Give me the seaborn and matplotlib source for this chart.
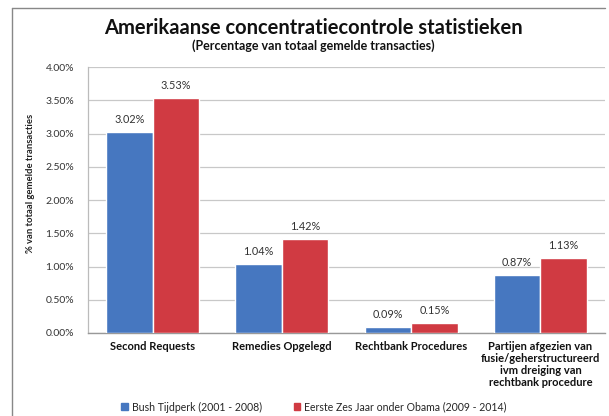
import matplotlib
matplotlib.use("Agg")
import matplotlib.pyplot as plt
import seaborn as sns
import pandas as pd
from matplotlib.lines import Line2D
from matplotlib.ticker import FuncFormatter

categories = ["Second Requests", "Remedies Opgelegd", "Rechtbank Procedures",
              "Partijen afgezien van\nfusie/geherstructureerd\nivm dreiging van\nrechtbank procedure"]
series = ["Bush Tijdperk (2001 - 2008)", "Eerste Zes Jaar onder Obama (2009 - 2014)"]
bush = [3.02, 1.04, 0.09, 0.87]
obama = [3.53, 1.42, 0.15, 1.13]
yticks = [0.0, 0.5, 1.0, 1.5, 2.0, 2.5, 3.0, 3.5, 4.0]

df = pd.DataFrame({
    "cat": categories * 2,
    "serie": [series[0]] * 4 + [series[1]] * 4,
    "val": bush + obama,
})

sns.set_theme(style="white")
plt.rcParams['font.family'] = ['Lato', 'DejaVu Sans']

fig = plt.figure(figsize=(6.09, 4.16), dpi=100)
W, H = 609, 416
ax = fig.add_axes([88 / W, 1 - 333 / H, (605 - 88) / W, (333 - 67) / H])

colors = ["#4677c0", "#d03a42"]
sns.barplot(data=df, x="cat", y="val", hue="serie", palette=colors, ax=ax,
            width=0.72, saturation=1, legend=False, zorder=3)

ax.set_ylim(0, 4.0)
ax.set_yticks(yticks)
ax.yaxis.set_major_formatter(FuncFormatter(lambda v, p: f"{v:.2f}%"))
ax.tick_params(axis="y", labelsize=7.5, colors="#333333", length=0, pad=10)
ax.tick_params(axis="x", labelsize=8, length=0, pad=6)
for t in ax.get_xticklabels():
    t.set_fontweight("bold")
    t.set_color("#111111")
    t.set_multialignment("center")
    t.set_verticalalignment("top")
    t.set_linespacing(1.1)
ax.grid(axis="y", color="#c8c8c8", linewidth=0.9, zorder=0)
ax.set_axisbelow(True)
for s in ["top", "right"]:
    ax.spines[s].set_visible(False)
ax.spines["left"].set_color("#bbbbbb")
ax.spines["bottom"].set_color("#999999")
ax.spines["left"].set_linewidth(0.9)
ax.spines["bottom"].set_linewidth(1.0)
ax.set_xlabel("")
ax.set_ylabel("% van totaal gemelde transacties", fontsize=6.8, fontweight="bold",
              color="#222222")
ax.yaxis.set_label_coords((35 - 88) / 517, (333 - 183) / 266)

for cont in ax.containers:
    ax.bar_label(cont, labels=[f"{v:.2f}%" for v in cont.datavalues],
                 fontsize=7.8, color="#333333", padding=5)

fig.text(313 / W, 1 - 28 / H, "Amerikaanse concentratiecontrole statistieken",
         ha="center", va="center", fontsize=14.5, fontweight="bold", color="#111111")
fig.text(313 / W, 1 - 46 / H, "(Percentage van totaal gemelde transacties)",
         ha="center", va="center", fontsize=9, fontweight="bold", color="#111111")

# frame
fig.add_artist(Line2D([12 / W, 605 / W], [1 - 8 / H, 1 - 8 / H], color="#888888", lw=1.0))
fig.add_artist(Line2D([12 / W, 12 / W], [1 - 8 / H, 0], color="#888888", lw=1.0))

# legend
handles = [plt.Rectangle((0, 0), 1, 1, color=c) for c in colors]
fig.legend(handles, series, loc="center left", bbox_to_anchor=(117 / W, 1 - 407 / H),
           ncol=2, frameon=False, fontsize=7.6, handlelength=0.6, handleheight=0.6,
           handletextpad=0.4, columnspacing=3.0, borderaxespad=0)

fig.savefig("out.png", dpi=100)
